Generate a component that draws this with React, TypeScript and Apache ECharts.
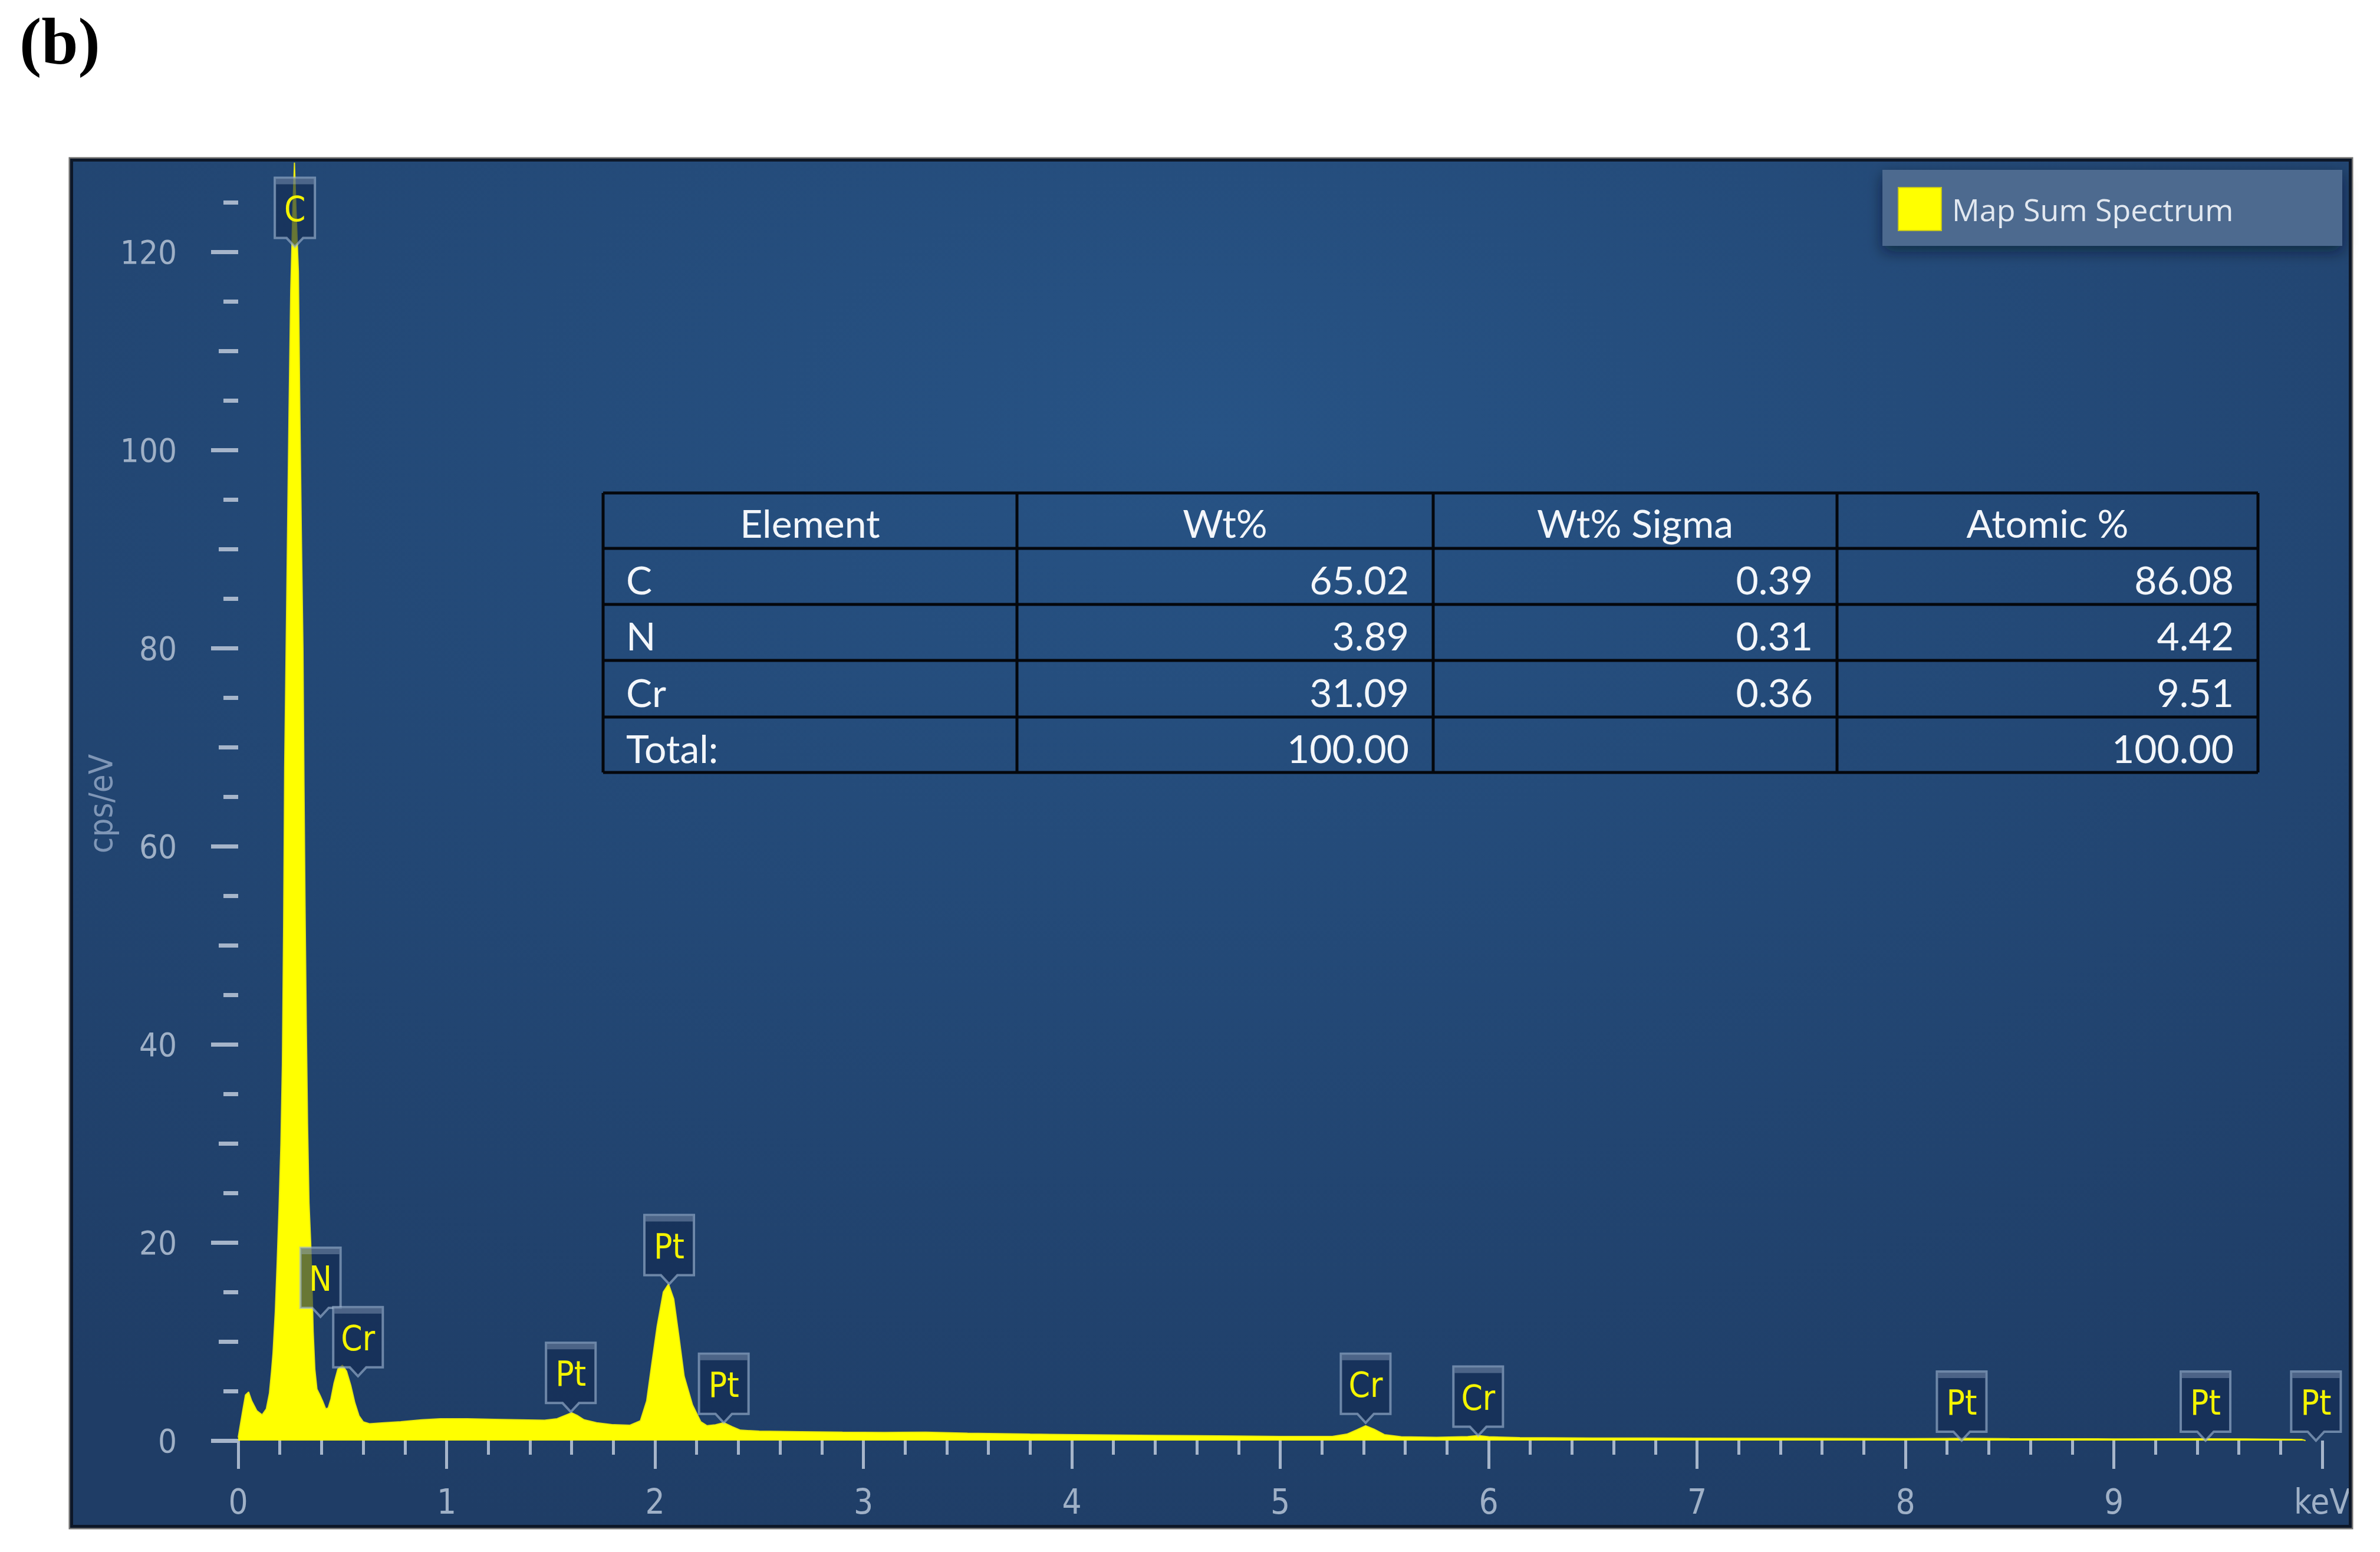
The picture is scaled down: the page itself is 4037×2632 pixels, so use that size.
import React, { useEffect, useRef } from "react";
import * as echarts from "echarts";

// ---------------- data ----------------
const SPECTRUM_NAME = "Map Sum Spectrum";

// energy (keV) and intensity (cps/eV)
const energyKeV = [
  0.0, 0.02, 0.035, 0.05, 0.065, 0.09, 0.115, 0.135, 0.15, 0.16, 0.167, 0.178, 0.187, 0.196, 0.205,
  0.212, 0.218, 0.223, 0.23, 0.237, 0.244, 0.252, 0.262, 0.27, 0.278, 0.289, 0.296, 0.303, 0.311,
  0.316, 0.321, 0.327, 0.333, 0.34, 0.348, 0.354, 0.36, 0.368, 0.378, 0.392, 0.405, 0.42, 0.432,
  0.445, 0.46, 0.478, 0.5, 0.52, 0.54, 0.56, 0.58, 0.6, 0.63, 0.7, 0.78, 0.88, 0.97, 1.1, 1.23,
  1.35, 1.47, 1.53, 1.57, 1.6, 1.63, 1.66, 1.72, 1.8, 1.88, 1.93, 1.96, 1.985, 2.01, 2.04, 2.065,
  2.09, 2.115, 2.14, 2.18, 2.22, 2.25, 2.29, 2.33, 2.37, 2.41, 2.5, 2.7, 2.9, 3.1, 3.3, 3.5, 3.8,
  4.1, 4.4, 4.7, 5.0, 5.25, 5.32, 5.37, 5.41, 5.45, 5.5, 5.58, 5.75, 5.9, 5.95, 6.0, 6.15, 6.5,
  7.0, 7.5, 8.0, 8.27, 8.5, 9.0, 9.44, 9.7, 9.9, 9.92,
];
const countsCpsPerEv = [
  0.3, 2.8, 4.6, 4.9, 4.0, 3.0, 2.6, 3.2, 4.8, 7.0, 8.8, 13.0, 18.0, 23.5, 30.0,
  38.0, 52.0, 68.0, 80.0, 92.0, 104.0, 116.0, 124.0, 129.0, 124.0, 118.0, 104.0, 92.0, 80.0,
  66.0, 54.0, 42.0, 32.0, 24.0, 20.0, 16.0, 11.0, 7.2, 5.2, 4.6, 4.0, 3.2, 3.3,
  4.2, 5.8, 7.2, 7.6, 7.0, 5.6, 3.8, 2.5, 1.9, 1.7, 1.8, 1.9, 2.1, 2.2, 2.2, 2.15,
  2.1, 2.05, 2.2, 2.55, 2.8, 2.5, 2.1, 1.8, 1.6, 1.55, 2.0, 4.0, 7.8, 11.5, 15.0, 15.8,
  14.3, 10.5, 6.5, 3.6, 1.9, 1.5, 1.6, 1.8, 1.4, 1.05, 0.95, 0.9, 0.85, 0.82, 0.85, 0.75, 0.65,
  0.58, 0.52, 0.47, 0.42, 0.42, 0.65, 1.1, 1.5, 1.15, 0.6, 0.38, 0.33, 0.4, 0.5, 0.38, 0.3, 0.26,
  0.24, 0.22, 0.2, 0.22, 0.19, 0.17, 0.18, 0.15, 0.12, 0.0,
];

// peak markers: element, energy (keV), marker tip height (cps/eV)
const peakElements = ["C", "N", "Cr", "Pt", "Pt", "Pt", "Cr", "Cr", "Pt", "Pt", "Pt"];
const peakEnergies = [0.272, 0.395, 0.575, 1.596, 2.068, 2.33, 5.41, 5.95, 8.27, 9.44, 9.97];
const peakHeights = [120.5, 12.5, 6.5, 2.9, 15.8, 1.8, 1.8, 0.5, 0.0, 0.0, 0.0];

// axis ticks
const xTickLabels = ["0", "1", "2", "3", "4", "5", "6", "7", "8", "9", "keV"];
const yTickValues = [0, 20, 40, 60, 80, 100, 120];

// quantification table
const tableHeaders = ["Element", "Wt%", "Wt% Sigma", "Atomic %"];
const tableElements = ["C", "N", "Cr", "Total:"];
const tableWt = ["65.02", "3.89", "31.09", "100.00"];
const tableWtSigma = ["0.39", "0.31", "0.36", ""];
const tableAtomic = ["86.08", "4.42", "9.51", "100.00"];

// ---------------- styling ----------------
const NARROW = "'Liberation Sans Narrow', 'Arial Narrow', 'DejaVu Sans Condensed', sans-serif";
const TICK_COLOR = "#a6b5ca";
const LABEL_COLOR = "#9fb0c6";

export default function App() {
  const ref = useRef<HTMLDivElement>(null);

  useEffect(() => {
    if (!ref.current) return;
    const chart = echarts.init(ref.current, undefined, { renderer: "svg" });

    const plotLeft = 404;
    const plotWidth = 3535;
    const zeroY = 2443;
    const pxPerUnit = 16.8;

    const seriesData = energyKeV.map((e, i) => [e, countsCpsPerEv[i]]);
    const peakData = peakEnergies.map((e, i) => [e, peakHeights[i]]);

    // table graphics
    const colX = [1023, 1725, 2431, 3116, 3830];
    const rowY = [836, 930, 1025, 1120, 1216, 1310];
    const tableEls: any[] = [];
    const lineStyle = { stroke: "#04070c", lineWidth: 5 };
    rowY.forEach((y) =>
      tableEls.push({ type: "line", shape: { x1: colX[0], y1: y, x2: colX[4], y2: y }, style: lineStyle, z: 20 })
    );
    colX.forEach((x) =>
      tableEls.push({ type: "line", shape: { x1: x, y1: rowY[0], x2: x, y2: rowY[5] }, style: lineStyle, z: 20 })
    );
    const tFont = "66px Lato";
    const tColor = "#f3f6fa";
    tableHeaders.forEach((h, c) =>
      tableEls.push({
        type: "text",
        z: 21,
        style: {
          text: h,
          x: (colX[c] + colX[c + 1]) / 2,
          y: (rowY[0] + rowY[1]) / 2 + 3,
          align: "center",
          verticalAlign: "middle",
          font: tFont,
          fill: tColor,
        },
      })
    );
    const cols = [tableElements, tableWt, tableWtSigma, tableAtomic];
    cols.forEach((col, c) =>
      col.forEach((v, r) => {
        if (!v) return;
        tableEls.push({
          type: "text",
          z: 21,
          style: {
            text: v,
            x: c === 0 ? colX[0] + 39 : colX[c + 1] - 41,
            y: (rowY[r + 1] + rowY[r + 2]) / 2 + 5,
            align: c === 0 ? "left" : "right",
            verticalAlign: "middle",
            font: tFont,
            fill: tColor,
          },
        });
      })
    );

    const frame = { x: 118, y: 268, width: 3872, height: 2324 };

    const option: any = {
      animation: false,
      grid: [
        { left: plotLeft, top: zeroY - 120 * pxPerUnit, width: plotWidth, height: 120 * pxPerUnit, containLabel: false },
        { left: plotLeft, top: zeroY - 120 * pxPerUnit, width: plotWidth, height: 120 * pxPerUnit, containLabel: false },
        { left: plotLeft, top: zeroY - 125 * pxPerUnit, width: plotWidth, height: 125 * pxPerUnit, containLabel: false },
      ],
      xAxis: [
        {
          type: "value",
          gridIndex: 0,
          min: 0,
          max: 10,
          interval: 1,
          offset: 11,
          axisLine: { show: false },
          splitLine: { show: false },
          axisTick: { show: true, length: 48, lineStyle: { color: TICK_COLOR, width: 5 } },
          minorTick: { show: true, splitNumber: 5, length: 24, lineStyle: { color: TICK_COLOR, width: 5 } },
          axisLabel: {
            margin: 64,
            fontSize: 58,
            fontFamily: NARROW,
            color: LABEL_COLOR,
            formatter: (v: number) => xTickLabels[Math.round(v)] ?? "",
          },
        },
        { type: "value", gridIndex: 1, min: 0, max: 10, show: false },
        { type: "value", gridIndex: 2, min: 0, max: 10, show: false },
      ],
      yAxis: [
        {
          type: "value",
          gridIndex: 0,
          min: 0,
          max: 120,
          interval: 20,
          offset: 46,
          axisLine: { show: false },
          splitLine: { show: false },
          axisTick: { show: true, length: 46, lineStyle: { color: TICK_COLOR, width: 7 } },
          axisLabel: {
            margin: 58,
            fontSize: 56,
            fontFamily: NARROW,
            color: LABEL_COLOR,
            formatter: (v: number) => (yTickValues.indexOf(v) >= 0 ? String(v) : ""),
          },
        },
        {
          type: "value",
          gridIndex: 1,
          min: 0,
          max: 120,
          interval: 10,
          offset: 46,
          axisLine: { show: false },
          splitLine: { show: false },
          axisTick: { show: true, length: 33, lineStyle: { color: TICK_COLOR, width: 7 } },
          axisLabel: { show: false },
        },
        {
          type: "value",
          gridIndex: 2,
          min: 0,
          max: 125,
          interval: 5,
          offset: 46,
          axisLine: { show: false },
          splitLine: { show: false },
          axisTick: { show: true, length: 25, lineStyle: { color: TICK_COLOR, width: 7 } },
          axisLabel: { show: false },
        },
      ],
      legend: {
        data: [SPECTRUM_NAME],
        left: 3219,
        top: 317,
        padding: 0,
        icon: "rect",
        itemWidth: 73,
        itemHeight: 73,
        selectedMode: false,
        z: 30,
        itemStyle: { color: "#ffff00", borderColor: "#c8c81a", borderWidth: 2 },
        textStyle: { fontSize: 52, fontFamily: "'Open Sans', sans-serif", color: "#e2e8f0", padding: [0, 0, 0, 13] },
      },
      series: [
        {
          name: SPECTRUM_NAME,
          type: "line",
          xAxisIndex: 0,
          yAxisIndex: 0,
          data: seriesData,
          color: "#ffff00",
          symbol: "none",
          clip: false,
          z: 2,
          lineStyle: { color: "#eaea10", width: 2 },
          areaStyle: { color: "#ffff00", opacity: 1 },
        },
        {
          name: "peaks",
          type: "custom",
          xAxisIndex: 0,
          yAxisIndex: 0,
          data: peakData,
          clip: false,
          z: 5,
          renderItem: (params: any, api: any) => {
            const p = api.coord([api.value(0), api.value(1)]);
            const name = peakElements[params.dataIndex];
            const w = name.length > 1 ? 84 : 68;
            const h = 102;
            const ph = 15;
            const pw = 14;
            const x = p[0];
            const y = p[1];
            const top = y - ph - h;
            const bot = y - ph;
            return {
              type: "group",
              children: [
                {
                  type: "polygon",
                  shape: {
                    points: [
                      [x - w / 2, top],
                      [x + w / 2, top],
                      [x + w / 2, bot],
                      [x + pw, bot],
                      [x, y],
                      [x - pw, bot],
                      [x - w / 2, bot],
                    ],
                  },
                  style: { fill: "rgba(18,42,82,0.64)", stroke: "rgba(160,182,210,0.62)", lineWidth: 4 },
                },
                {
                  type: "rect",
                  shape: { x: x - w / 2 + 2, y: top + 2, width: w - 4, height: 9 },
                  style: { fill: "rgba(175,195,220,0.35)" },
                },
                {
                  type: "text",
                  style: {
                    text: name,
                    x: x,
                    y: top + h / 2 + 2,
                    align: "center",
                    verticalAlign: "middle",
                    fill: "#f4f400",
                    font: `58px ${NARROW}`,
                  },
                },
              ],
            };
          },
        },
      ],
      graphic: [
        {
          type: "rect",
          z: -10,
          shape: frame,
          style: {
            fill: {
              type: "radial",
              x: 0.5,
              y: 0.2,
              r: 0.85,
              colorStops: [
                { offset: 0, color: "#275385" },
                { offset: 1, color: "#1f3d66" },
              ],
            },
          },
        },
        {
          type: "rect",
          z: 100,
          shape: frame,
          style: { fill: "none", stroke: "#707070", lineWidth: 3 },
        },
        {
          type: "rect",
          z: 100,
          shape: { x: frame.x + 3.5, y: frame.y + 3.5, width: frame.width - 7, height: frame.height - 7 },
          style: { fill: "none", stroke: "#0d1728", lineWidth: 5 },
        },
        {
          type: "rect",
          z: 10,
          shape: { x: 3193, y: 288, width: 780, height: 129 },
          style: {
            fill: "#4e6b8f",
            shadowBlur: 24,
            shadowOffsetY: 10,
            shadowColor: "rgba(5,15,35,0.55)",
          },
        },
        {
          type: "text",
          z: 20,
          x: 170,
          y: 1363,
          rotation: Math.PI / 2,
          style: {
            text: "cps/eV",
            align: "center",
            verticalAlign: "middle",
            font: `56px ${NARROW}`,
            fill: "#7f96b6",
          },
        },
        {
          type: "text",
          z: 20,
          style: {
            text: "(b)",
            x: 33,
            y: 70,
            align: "left",
            verticalAlign: "middle",
            font: "bold 112px 'Liberation Serif', serif",
            fill: "#000000",
          },
        },
        ...tableEls,
      ],
    };

    chart.setOption(option);
    return () => chart.dispose();
  }, []);

  return (
    <div
      ref={ref}
      style={{ position: "absolute", left: 0, top: 0, width: 4037, height: 2632, background: "#ffffff" }}
    />
  );
}
